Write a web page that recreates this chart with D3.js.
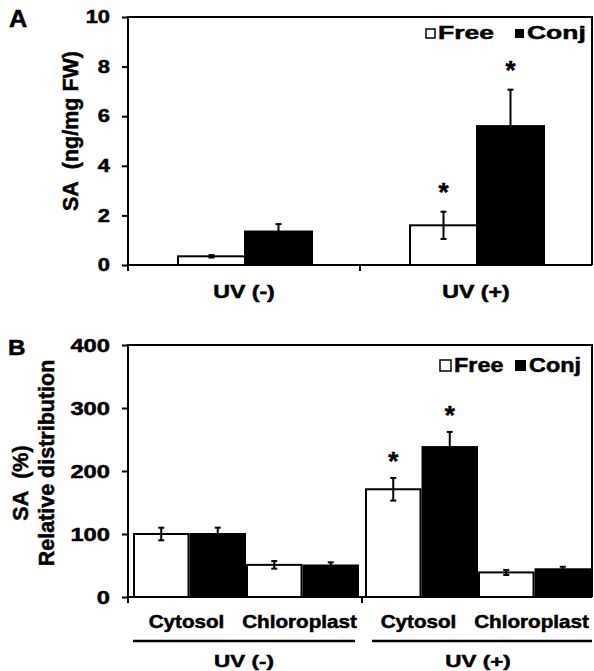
<!DOCTYPE html>
<html>
<head>
<meta charset="utf-8">
<script src="https://cdn.jsdelivr.net/npm/d3@7"></script>
<style>
  body { margin: 0; background: #fff; }
  text { font-family: "Liberation Sans", Arial, sans-serif; font-weight: bold; fill: #000; stroke: #000; stroke-width: 0.5px; }
</style>
</head>
<body>
<svg id="chart" width="594" height="671"></svg>
<script>
// panel A: SA content (ng/mg FW)
const treatments = ["UV (-)", "UV (+)"];
const freeA = [0.35, 1.6];
const conjA = [1.35, 5.6];
const freeErrA = [0.05, 0.55];
const conjErrA = [0.3, 1.47];
const starA = [[false, false], [true, true]]; // [free, conj] per treatment
const ticksA = [0, 2, 4, 6, 8, 10];

// panel B: relative distribution (%)
const fractions = ["Cytosol", "Chloroplast"];
const freeB = [100, 51, 171, 39];
const conjB = [100, 50, 238, 44];
const freeErrB = [10, 6, 18, 4];
const conjErrB = [10, 5, 24, 4];
const starB = [[false, false], [false, false], [true, true], [false, false]];
const ticksB = [0, 100, 200, 300, 400];

const svg = d3.select("#chart");

function label(g, str, x, y, size, sx, anchor) {
    return g.append("text")
        .attr("transform", `translate(${x},${y}) scale(${sx},1)`)
        .attr("text-anchor", anchor || "middle")
        .style("font-size", size + "px")
        .text(str);
}

function frame(g, left, right, top, bottom) {
    g.append("path")
        .attr("d", `M${left},${bottom}V${top}H${right}V${bottom}`)
        .attr("fill", "none").attr("stroke", "#000").attr("stroke-width", 2);
    g.append("line")
        .attr("x1", left).attr("x2", right).attr("y1", bottom).attr("y2", bottom)
        .attr("stroke", "#000").attr("stroke-width", 2);
}

function yAxis(g, y, ticks, left, size) {
    const ax = g.append("g")
        .attr("transform", `translate(${left},0)`)
        .call(d3.axisLeft(y).tickValues(ticks).tickSize(6).tickPadding(0));
    ax.select(".domain").remove();
    ax.selectAll("line").attr("stroke", "#000").attr("stroke-width", 2);
    ax.selectAll("text")
        .attr("x", -18 / 1.25)
        .attr("transform", "scale(1.25,1)")
        .style("font-size", size + "px")
        .style("font-family", null);
}

function errBar(g, cx, top, err, y) {
    g.append("line")
        .attr("x1", cx).attr("x2", cx)
        .attr("y1", y(top + err)).attr("y2", y(top - err))
        .attr("stroke", "#000").attr("stroke-width", 2);
    [top + err, top - err].forEach(v => {
        g.append("line")
            .attr("x1", cx - 3).attr("x2", cx + 3)
            .attr("y1", y(v)).attr("y2", y(v))
            .attr("stroke", "#000").attr("stroke-width", 2);
    });
}

function legend(g, x, y, box, size, sx, freeW, gap) {
    g.append("rect").attr("x", x).attr("y", y - box - 1).attr("width", box).attr("height", box)
        .attr("fill", "#fff").attr("stroke", "#000").attr("stroke-width", 1.5);
    label(g, "Free", x + box + 3, y, size, sx, "start");
    const x2 = x + box + 3 + freeW + gap;
    g.append("rect").attr("x", x2).attr("y", y - box - 1).attr("width", box).attr("height", box)
        .attr("fill", "#000");
    label(g, "Conj", x2 + box + 3, y, size, sx, "start");
}

// ---------- panel A ----------
const left = 128, right = 592;
const gA = svg.append("g");
const yA = d3.scaleLinear().domain([0, 10]).range([265, 17]);
const xA = d3.scaleBand().domain(treatments).range([left, right]);
const innerA = d3.scaleBand().domain(["Free", "Conj"]).range([50, 184]);

treatments.forEach((t, i) => {
    const vals = [[freeA[i], freeErrA[i], "#fff"], [conjA[i], conjErrA[i], "#000"]];
    vals.forEach(([v, e, fill], j) => {
        const bx = xA(t) + innerA(j ? "Conj" : "Free");
        gA.append("rect")
            .attr("x", bx).attr("y", yA(v))
            .attr("width", innerA.bandwidth()).attr("height", yA(0) - yA(v))
            .attr("fill", fill).attr("stroke", "#000").attr("stroke-width", 2);
        const cx = bx + innerA.bandwidth() / 2;
        errBar(gA, cx, v, e, yA);
        if (starA[i][j]) label(gA, "*", cx, yA(v + e) - 11, 26, 1);
    });
});

frame(gA, left, right, 17, 265);
gA.append("line").attr("x1", left).attr("x2", left).attr("y1", 265).attr("y2", 271)
    .attr("stroke", "#000").attr("stroke-width", 2);
gA.append("line").attr("x1", xA("UV (+)")).attr("x2", xA("UV (+)")).attr("y1", 265).attr("y2", 271)
    .attr("stroke", "#000").attr("stroke-width", 2);
yAxis(gA, yA, ticksA, left, 17.5);

treatments.forEach(t => label(gA, t, xA(t) + xA.bandwidth() / 2, 298, 17.5, 1.32));
legend(gA, 426, 39, 9, 18.5, 1.43, 57, 20);

gA.append("text")
    .attr("transform", "translate(78,131) rotate(-90)")
    .attr("text-anchor", "middle")
    .style("font-size", "21.5px")
    .text("SA\u00a0\u00a0(ng/mg FW)");
label(gA, "A", 9, 27, 23, 1.1, "start");

// ---------- panel B ----------
const gB = svg.append("g");
const yB = d3.scaleLinear().domain([0, 400]).range([597, 345]);
const xB = d3.scaleBand().domain(treatments).range([left, right]);
const barKeys = ["Cytosol-Free", "Cytosol-Conj", "Chloroplast-Free", "Chloroplast-Conj"];
const innerB = d3.scaleBand().domain(barKeys).range([5, 231]);

treatments.forEach((t, i) => {
    fractions.forEach((f, k) => {
        const idx = i * 2 + k;
        const vals = [[freeB[idx], freeErrB[idx], "#fff", "Free"], [conjB[idx], conjErrB[idx], "#000", "Conj"]];
        vals.forEach(([v, e, fill, kind], j) => {
            const bx = xB(t) + innerB(f + "-" + kind);
            const w = innerB.bandwidth() - 2;
            gB.append("rect")
                .attr("x", bx + 1).attr("y", yB(v))
                .attr("width", w).attr("height", yB(0) - yB(v))
                .attr("fill", fill).attr("stroke", "#000").attr("stroke-width", 2);
            const cx = bx + 1 + w / 2;
            errBar(gB, cx, v, e, yB);
            if (starB[idx][j]) label(gB, "*", cx, yB(v + e) - 8, 26, 1);
        });
        const c = xB(t) + innerB(f + "-Free") + innerB.bandwidth();
        label(gB, f, c - 3, 628, 17.5, 1.18);
    });
    const g0 = xB(t);
    gB.append("line")
        .attr("x1", g0 + (i ? 12 : 5)).attr("x2", g0 + xB.bandwidth() - (i ? 0 : 5))
        .attr("y1", 641).attr("y2", 641)
        .attr("stroke", "#000").attr("stroke-width", 2.5);
    label(gB, t, g0 + xB.bandwidth() / 2 + (i ? 2 : 0), 667, 17, 1.32);
});

frame(gB, left, right, 345, 597);
gB.append("line").attr("x1", left).attr("x2", left).attr("y1", 597).attr("y2", 603)
    .attr("stroke", "#000").attr("stroke-width", 2);
gB.append("line").attr("x1", xB("UV (+)") + 2).attr("x2", xB("UV (+)") + 2).attr("y1", 597).attr("y2", 603)
    .attr("stroke", "#000").attr("stroke-width", 2);
yAxis(gB, yB, ticksB, left, 19);

legend(gB, 440, 372, 11, 20, 1.17, 50, 11);

gB.append("text")
    .attr("transform", "translate(28,483) rotate(-90)")
    .attr("text-anchor", "middle")
    .style("font-size", "21.5px")
    .text("SA\u00a0\u00a0(%)");
gB.append("text")
    .attr("transform", "translate(54,463) rotate(-90)")
    .attr("text-anchor", "middle")
    .style("font-size", "21.5px")
    .text("Relative distribution");
label(gB, "B", 8, 355, 22, 1.1, "start");
</script>
</body>
</html>
